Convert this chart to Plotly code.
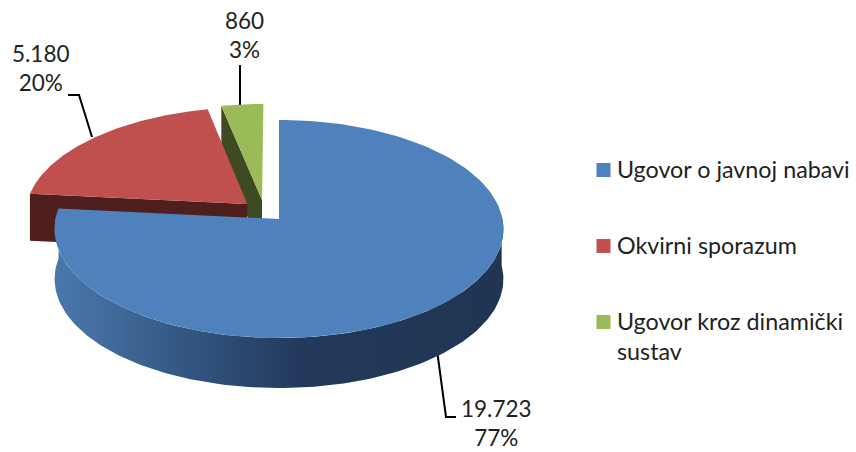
import numpy as np
import plotly.graph_objects as go

# ---- data ----
categories = ["Ugovor o javnoj nabavi", "Okvirni sporazum", "Ugovor kroz dinamički<br>sustav"]
values = [19723, 5180, 860]
top_colors = ["#4F81BD", "#C0504D", "#9BBB59"]
wall_colors = ["#1F3552", "#4F1F1E", "#3E4B22"]

# ---- projection of the tilted pie onto the page ----
CX, CY, RX, RY, K = 279.0, 219.0, 223.5, 108.1, 0.0917
explode = [(0.0, 0.0), (-0.1436, 0.1406), (-0.0773, 0.1787)]
depths = [50, 47, 50]
FONT = "Lato"
TXT = "#222222"


def project(px, py):
    w = 1 + K * py
    return CX + RX * px / w, CY - RY * py / w


def arc(a0, a1, off, n=160):
    t = np.radians(np.linspace(a0, a1, n))
    return project(np.sin(t) + off[0], np.cos(t) + off[1])


total = sum(values)
angles = np.cumsum([0] + [v / total * 360 for v in values])
fig = go.Figure()


def poly(xs, ys, color=None, **kw):
    args = dict(x=list(xs), y=list(ys), mode="lines", fill="toself",
                line=dict(width=0), hoverinfo="skip", showlegend=False)
    if color:
        args["fillcolor"] = color
    args.update(kw)
    fig.add_trace(go.Scatter(**args))


def leader(xs, ys):
    fig.add_trace(go.Scatter(x=xs, y=ys, mode="lines", line=dict(color="#000000", width=2),
                             hoverinfo="skip", showlegend=False))


def cut_face(i, a):
    """Flat radial face of exploded slice i at angle a."""
    off = explode[i]
    ax, ay = project(*off)
    ex, ey = arc(a, a, off, n=1)
    d = depths[i]
    return [ax, ex[0], ex[0], ax], [ay, ey[0], ey[0] + d, ay + d]


def top_face(i):
    off = explode[i]
    ax, ay = project(*off)
    x, y = arc(angles[i], angles[i + 1], off)
    poly([ax, *x, ax], [ay, *y, ay], top_colors[i], name=categories[i].replace("<br>", " "))


# green slice
leader([240, 240], [65, 108])
fx, fy = cut_face(2, angles[2])
poly(fx, fy, wall_colors[2])
top_face(2)

# red slice
leader([68, 79, 92], [95, 95, 137])
fx, fy = cut_face(1, angles[1])
poly(fx, fy, wall_colors[1])
top_face(1)

# blue slice
leader([456, 446, 437], [417, 417, 350])
x, y = arc(88, angles[1], explode[0])
poly([*x, *x[::-1]], [*y, *(y[::-1] + depths[0])],
     fillgradient=dict(type="horizontal",
                       colorscale=[[0, "#4A77AB"], [0.1, "#436D9E"], [0.33, "#30527C"],
                                   [0.55, "#22395B"], [1, "#1F3552"]]))
top_face(0)

# data labels
label_pos = [(496, 393), (41, 38), (244.5, 5)]
for v, (lx, ly) in zip(values, label_pos):
    txt = f"{v:,}".replace(",", ".") + f"<br>{round(v / total * 100)}%"
    fig.add_annotation(x=lx, y=ly, text=txt, showarrow=False, xanchor="center", yanchor="top",
                       align="center", font=dict(family=FONT, size=22.5, color=TXT))

# legend
legend_y = [170, 246, 322]
for name, col, ly in zip(categories, top_colors, legend_y):
    fig.add_trace(go.Scatter(x=[603.5], y=[ly], mode="markers", hoverinfo="skip", showlegend=False,
                             marker=dict(symbol="square", size=14, color=col)))
    fig.add_annotation(x=615, y=ly - 17, text=name, showarrow=False, xanchor="left", yanchor="top",
                       align="left", font=dict(family=FONT, size=23.3, color=TXT))

fig.update_layout(
    width=856, height=452, margin=dict(l=0, r=0, t=0, b=0), autosize=False,
    paper_bgcolor="white", plot_bgcolor="white", showlegend=False,
    xaxis=dict(range=[0, 856], visible=False, fixedrange=True),
    yaxis=dict(range=[452, 0], visible=False, fixedrange=True),
)
fig.write_html("out.html", config={"displayModeBar": False},
               post_script="document.body.style.margin='0';")
